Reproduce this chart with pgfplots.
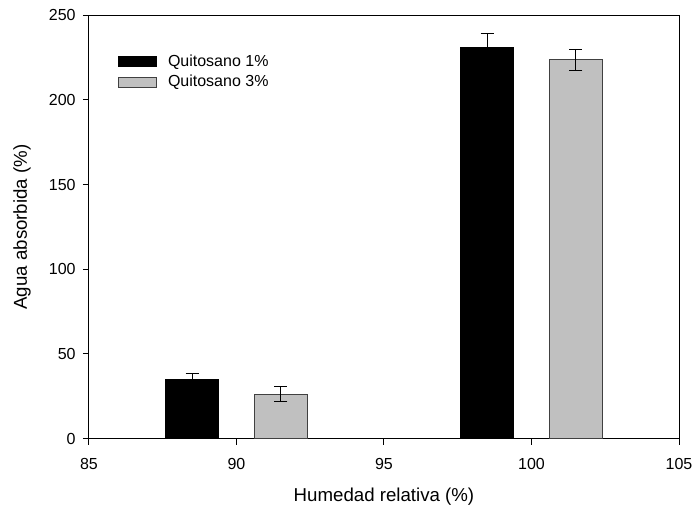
\documentclass[border=0pt]{standalone}
\usepackage{pgfplots}
\pgfplotsset{compat=1.18}
\usepackage{fontspec}
\setmainfont{Liberation Sans}
\definecolor{barGray}{RGB}{192,192,192}
\definecolor{edgeGray}{RGB}{64,64,64}
\begin{document}
\begin{tikzpicture}
\begin{axis}[
  scale only axis, width=442.5pt, height=317.55pt,
  xmin=85, xmax=105, ymin=0, ymax=250,
  xtick={85,90,...,105}, ytick={0,50,...,250},
  tick align=outside, tick pos=left, major tick length=4.5pt,
  /pgf/number format/assume math mode=true,
  tick label style={font=\fontsize{12}{14}\selectfont},
  xticklabel style={yshift=-7pt},
  yticklabel style={xshift=-2pt},
  label style={font=\fontsize{14}{16}\selectfont},
  xlabel={Humedad relativa (\%)}, ylabel={Agua absorbida (\%)},
  xlabel style={at={(axis description cs:0.5,-0.137)}, anchor=center},
  ylabel style={at={(axis description cs:-0.1136,0.5)}, anchor=center},
  axis line style={line width=0.75pt},
  every tick/.style={black, line width=0.75pt},
  ybar, bar width=1.8, bar shift=0pt,
  legend image code/.code={\draw[#1] (0pt,-3.75pt) rectangle (28.5pt,3.75pt); \path[draw=none,fill=none] (0pt,0pt) -- (35pt,0pt);},
  legend style={at={(rel axis cs:0.049,0.913)}, anchor=north west, draw=none, fill=none,
    font=\fontsize{12}{14}\selectfont, row sep=1pt, inner sep=0pt},
  legend cell align=left,
]
\addplot[fill=black, draw=black, line width=0.75pt,
  error bars/.cd, y dir=both, y explicit,
  error bar style={black, line width=0.75pt},
  error mark options={black, mark size=5pt, line width=0.75pt, rotate=90}]
  coordinates {(88.5,35.2) +- (0,3.0) (98.5,231.0) +- (0,8.3)};
\addlegendentry{Quitosano 1\%}
\addplot[fill=barGray, draw=edgeGray, line width=0.75pt,
  error bars/.cd, y dir=both, y explicit,
  error bar style={black, line width=0.75pt},
  error mark options={black, mark size=5pt, line width=0.75pt, rotate=90}]
  coordinates {(91.5,26.2) +- (0,4.5) (101.5,223.7) +- (0,6.2)};
\addlegendentry{Quitosano 3\%}
\end{axis}
\pgfresetboundingbox
\path (-66.75pt,-53.5pt) rectangle (453pt,329pt);
\end{tikzpicture}
\end{document}
